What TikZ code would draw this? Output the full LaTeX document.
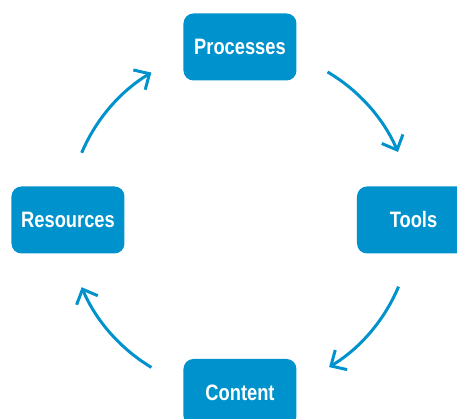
\documentclass[tikz,border=0pt]{standalone}
\usepackage{fontspec}
\setmainfont{Liberation Sans}[FakeStretch=0.82]
\usepackage{tikz}
\usetikzlibrary{shapes,arrows.meta,positioning}

\definecolor{cycleblue}{RGB}{0,146,204}

\tikzset{
	stage/.style={rectangle, rounded corners=0.2cm, fill=cycleblue, text=white,
		minimum width=2.26cm, minimum height=1.34cm, inner sep=0pt,
		font=\fontsize{12.7}{14}\selectfont\bfseries},
	flow/.style={draw=cycleblue, line width=1.7pt,
		-{Straight Barb[length=2.4mm, width=4.6mm, line width=1.7pt]}}
}

\begin{document}
\begin{tikzpicture}
				\useasboundingbox (-4.8,-3.98) rectangle (4.34,4.4);
				\coordinate (hub) at (0,0);
				\node [stage] (processes) at (90:3.46) {Processes};
				\node [stage] (tools) at (0:3.47) {Tools};
				\node [stage] (content) at (-90:3.45) {Content};
				\node [stage] (resources) at (180:3.44) {Resources};
				% arcs of the cycle
				\draw [flow] ([shift={(59.4:3.44)}]hub) arc [start angle=59.4, end angle=23.3, radius=3.44];
				\draw [flow] ([shift={(-22.8:3.44)}]hub) arc [start angle=-22.8, end angle=-58.8, radius=3.44];
				\draw [flow] ([shift={(-121:3.44)}]hub) arc [start angle=-121, end angle=-157, radius=3.44];
				\draw [flow] ([shift={(157:3.44)}]hub) arc [start angle=157, end angle=121, radius=3.44];
\end{tikzpicture}
\end{document}
